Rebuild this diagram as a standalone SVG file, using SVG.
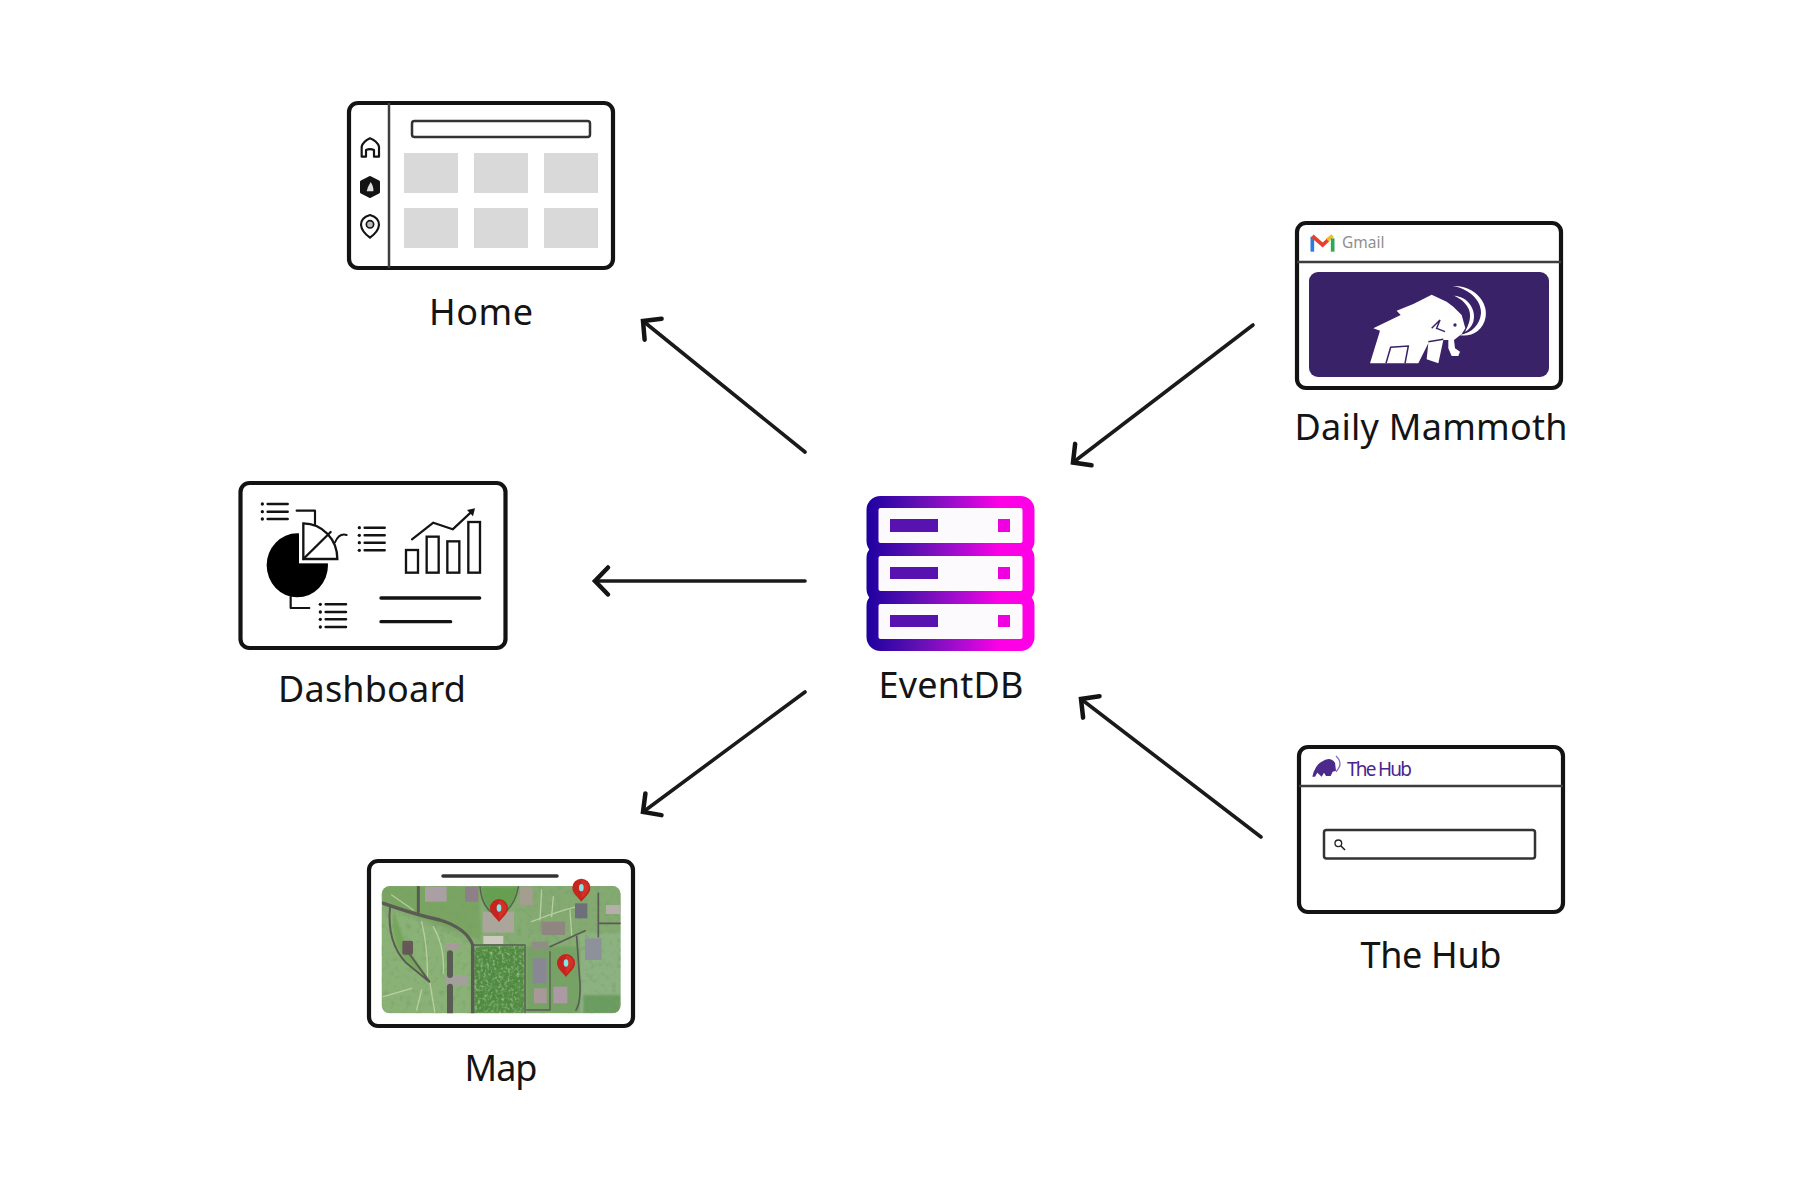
<svg xmlns="http://www.w3.org/2000/svg" width="1800" height="1200" viewBox="0 0 1800 1200">
<style>
text{font-family:"Noto Sans","Liberation Sans",sans-serif;fill:#141414}
.label{font-size:36px;text-anchor:middle}
.box{fill:#fff;stroke:#131313;stroke-width:4.2}
.tile{fill:#d9d9d9}
.div{stroke:#3d3d3d;stroke-width:2.5;fill:none}
.ln{fill:none;stroke:#131313;stroke-linecap:round;stroke-linejoin:round}
.arrow{fill:none;stroke:#1a1a1a;stroke-width:3.6;stroke-linecap:round;marker-end:url(#head)}
.srv{fill:#fdfafd;stroke:url(#grad);stroke-width:12}
.sbar{fill:#5812b0}
.road{fill:none;stroke:#5a5c54;stroke-linecap:round;stroke-linejoin:round}
.path{fill:none;stroke:#c9d8b0;stroke-width:4;stroke-linecap:round;opacity:.75}
</style>
<defs>
<marker id="head" markerUnits="userSpaceOnUse" markerWidth="44" markerHeight="44" viewBox="-34 -22 44 44" refX="0" refY="0" orient="auto">
<path d="M-13,-13.500 L0,0 L-13,13.500" fill="none" stroke="#141414" stroke-width="4.500" stroke-linecap="round" stroke-linejoin="miter"/>
</marker>
<linearGradient id="grad" gradientUnits="userSpaceOnUse" x1="867" y1="0" x2="1034" y2="0">
<stop offset="0" stop-color="#1f00a0"/><stop offset=".3" stop-color="#5f10b4"/><stop offset=".55" stop-color="#a80cd0"/><stop offset=".8" stop-color="#ff00e6"/><stop offset="1" stop-color="#ff00e6"/>
</linearGradient>
<clipPath id="mapclip"><rect x="95" y="138" width="717" height="382" rx="25"/></clipPath>
<filter id="soft" x="-5%" y="-5%" width="110%" height="110%"><feGaussianBlur stdDeviation="2.400"/></filter>
<filter id="mottle" x="0" y="0" width="100%" height="100%">
<feTurbulence type="fractalNoise" baseFrequency=".06" numOctaves="3" seed="4"/>
<feColorMatrix values="0 0 0 0 .18  0 0 0 0 .34  0 0 0 0 .14  0 0 0 1.600 -.8"/>
</filter>
<filter id="leaf" x="0" y="0" width="100%" height="100%">
<feTurbulence type="fractalNoise" baseFrequency=".11" numOctaves="2" seed="9"/>
<feColorMatrix values="0 0 0 0 .62  0 0 0 0 .80  0 0 0 0 .48  0 0 0 2 -.95"/>
<feGaussianBlur stdDeviation="1.500"/>
</filter>
<g id="pin"><path d="M0,38 C-10,24 -27,14 -27,-4 A27,27 0 1 1 27,-4 C27,14 10,24 0,38Z" fill="#c5241f"/><path d="M0,-27 A24,24 0 0 1 22,-4 C22,8 8,20 0,30Z" fill="#dd3a2a" opacity=".6"/><ellipse cx="0" cy="-4" rx="7" ry="11" fill="#84e4ea"/></g>
</defs>
<rect width="1800" height="1200" fill="#fff"/>

<g id="connectors">
<path class="arrow" d="M805,452 L643,321"/>
<path class="arrow" d="M805,581 L595,581"/>
<path class="arrow" d="M805,692 L643,812"/>
<path class="arrow" d="M1253,325 L1073,462.500"/>
<path class="arrow" d="M1261,837 L1081,699"/>
</g>

<g id="home">
<rect class="box" x="349" y="103" width="264" height="165" rx="9"/>
<path class="div" d="M389,103V268"/>
<rect x="412" y="121" width="178" height="16" rx="2.500" fill="#fff" stroke="#333" stroke-width="2.500"/>
<rect class="tile" x="404" y="153" width="54" height="40"/><rect class="tile" x="474" y="153" width="54" height="40"/><rect class="tile" x="544" y="153" width="54" height="40"/>
<rect class="tile" x="404" y="208" width="54" height="40"/><rect class="tile" x="474" y="208" width="54" height="40"/><rect class="tile" x="544" y="208" width="54" height="40"/>
<g transform="translate(330 80) scale(.33333)">
<path class="ln" stroke-width="6.500" d="M95,230 L95,200 Q100,184 120,175 Q142,184 147,200 L147,230 H132 V210 Q120,205 108,210 V230Z"/>
<path d="M120,293 L145,306 V336 L120,349 L95,336 V306Z" fill="#131313" stroke="#131313" stroke-width="10" stroke-linejoin="round"/>
<path d="M110,334 Q112,322 122,306 Q132,322 130,334Z" fill="#ddd"/>
<path class="ln" stroke-width="6.500" d="M120,405 Q148,413 147,435 Q145,455 120,473 Q95,455 93,435 Q92,413 120,405Z"/>
<circle cx="120" cy="433" r="11" fill="#bbb" stroke="#131313" stroke-width="5"/>
</g>
<text class="label" x="481" y="325" textLength="104">Home</text>
</g>

<g id="dashboard">
<rect class="box" x="240.500" y="483" width="265" height="165" rx="9"/>
<g transform="translate(220 460) scale(.33333)">
<g class="ln" stroke-width="7.500"><path d="M143,132H203M143,155H203M143,177H203M434,203H494M434,226H494M434,248H494M434,271H494M317,433H378M317,456H378M317,478H378M317,501H378"/></g>
<g fill="#131313"><circle cx="127" cy="132" r="5"/><circle cx="127" cy="155" r="5"/><circle cx="127" cy="177" r="5"/><circle cx="418" cy="203" r="5"/><circle cx="418" cy="226" r="5"/><circle cx="418" cy="248" r="5"/><circle cx="418" cy="271" r="5"/><circle cx="301" cy="433" r="5"/><circle cx="301" cy="456" r="5"/><circle cx="301" cy="478" r="5"/><circle cx="301" cy="501" r="5"/></g>
<ellipse cx="232" cy="316" rx="92" ry="96" fill="#000"/>
<rect x="237" y="200" width="110" height="110" fill="#fff"/>
<path d="M250,297 L250,190 A102,107 0 0 1 352,297Z" fill="#fff" stroke="#131313" stroke-width="7" stroke-linejoin="miter"/>
<path class="ln" stroke-width="7" d="M250,297 L332,216"/>
<path class="ln" stroke-width="6.500" d="M230,152 H285 V193 M212,410 V444 H268"/>
<path class="ln" stroke-width="6" d="M345,247 Q358,218 380,225"/>
<g fill="none" stroke="#131313" stroke-width="7"><rect x="558" y="270" width="36" height="68"/><rect x="620" y="230" width="36" height="108"/><rect x="682" y="244" width="36" height="94"/><rect x="745" y="186" width="35" height="152"/></g>
<path class="ln" stroke-width="6.500" d="M576,238 L640,188 L698,208 L755,155"/>
<path d="M741,150 L765,145 L759,169Z" fill="#131313"/>
<path class="ln" stroke-width="10" d="M483,414H779M483,485H692"/>
</g>
<text class="label" x="372" y="702" textLength="188">Dashboard</text>
</g>

<g id="map">
<rect class="box" x="369" y="861" width="264" height="165" rx="9"/>
<path d="M443,876H557" stroke="#333" stroke-width="3.500" stroke-linecap="round"/>
<g transform="translate(350 840) scale(.33333)">
<g clip-path="url(#mapclip)">
<rect x="95" y="138" width="717" height="382" fill="#85ac72"/>
<g filter="url(#soft)">
<path d="M95,140H390V300L200,230L95,190Z" fill="#7aa462"/>
<path d="M95,200L360,310V520H95Z" fill="#8bb276"/>
<path d="M130,210Q120,310 170,365L235,420L170,320Z" fill="#74a65c"/>
<rect x="372" y="318" width="152" height="202" fill="#4f8a40"/>
<path d="M392,140 Q395,210 445,228 Q495,205 505,140Z" fill="#659f50"/>
<path d="M690,270H812V520H690Z" fill="#8db282"/>
<path d="M530,140H812V280H530Z" fill="#84aa72"/>
<path d="M530,320H690V520H530Z" fill="#76a265"/>
<rect x="700" y="465" width="112" height="55" fill="#6a9c5e"/>
</g>
<rect x="95" y="138" width="717" height="382" filter="url(#mottle)"/>
<rect x="372" y="318" width="152" height="202" filter="url(#leaf)" opacity=".7"/>
<g style="filter:blur(1.800px)">
<path class="path" d="M215,245Q235,330 232,420M250,260Q285,320 280,400M100,470L185,445M240,430L255,520M215,450L200,510M575,150L570,240M610,170L605,230M545,245Q620,215 680,200M125,165L190,210M660,210L665,285"/>
<g>
<rect x="225" y="140" width="65" height="45" fill="#aaa0a3"/><rect x="345" y="140" width="40" height="45" fill="#8f7f88"/><rect x="510" y="140" width="38" height="55" fill="#a39e90"/>
<rect x="398" y="215" width="94" height="63" fill="#aaa69c"/><rect x="400" y="288" width="60" height="24" fill="#cfcabf"/>
<rect x="288" y="310" width="42" height="20" fill="#a79a9b"/><rect x="157" y="302" width="32" height="42" fill="#655856" rx="5"/>
<rect x="285" y="405" width="67" height="33" fill="#a3a09b"/>
<rect x="575" y="245" width="70" height="40" fill="#8f8682"/><rect x="545" y="305" width="50" height="25" fill="#8f8e84"/>
<rect x="705" y="295" width="50" height="65" fill="#8d929a"/><rect x="675" y="190" width="37" height="45" fill="#6d6f7a"/><rect x="768" y="195" width="44" height="27" fill="#b5aeaa"/>
<rect x="548" y="355" width="42" height="75" fill="#8a8794"/><rect x="552" y="445" width="38" height="45" fill="#a8989a"/><rect x="610" y="440" width="42" height="50" fill="#ab99a4"/>
</g>
<path class="road" stroke-width="10" d="M100,190 Q200,225 270,240 Q350,265 368,315 V520"/>
<path class="road" stroke-width="9" d="M205,140 V215"/>
<path class="road" stroke-width="6" d="M120,200 Q110,310 170,370 L238,425 L170,330"/>
<path class="road" stroke-width="18" d="M300,340 V405 M300,440 V520"/>
<path class="road" stroke-width="4" d="M368,315 H525 V520"/>
<path class="road" stroke-width="4" d="M390,140 Q395,210 445,228 Q495,205 505,140"/>
<path class="road" stroke-width="5" d="M680,290 L690,430 Q692,490 678,510 M600,320 L705,272 M745,160 V290 M745,250 H812"/>
<path class="road" stroke-width="4" d="M600,335 V510 M530,510 H600"/>
</g>
</g>
<use href="#pin" x="447" y="208"/><use href="#pin" x="694" y="147"/><use href="#pin" x="648" y="373"/>
</g>
<text class="label" x="501" y="1081" textLength="73">Map</text>
</g>

<g id="eventdb">
<rect class="srv" x="872.500" y="502" width="156" height="47" rx="8"/>
<rect class="srv" x="872.500" y="550" width="156" height="47" rx="8"/>
<rect class="srv" x="872.500" y="598" width="156" height="47" rx="8"/>
<rect class="sbar" x="890" y="519" width="48" height="13"/><rect class="sbar" x="890" y="567" width="48" height="12"/><rect class="sbar" x="890" y="615" width="48" height="12"/>
<rect x="998" y="519" width="12" height="13" fill="#f000e0"/><rect x="998" y="567" width="12" height="12" fill="#f000e0"/><rect x="998" y="615" width="12" height="12" fill="#f000e0"/>
<text class="label" x="951" y="698" textLength="145">EventDB</text>
</g>

<g id="daily-mammoth">
<rect class="box" x="1297" y="223" width="264" height="165" rx="9"/>
<path class="div" d="M1297,262H1561"/>
<rect x="1309" y="272" width="240" height="105" rx="9" fill="#3a2268"/>
<g transform="translate(1280 200) scale(.33333)">
<path d="M97,155 V110" stroke="#2a7de0" stroke-width="11" fill="none"/>
<path d="M97,108 L128,135 L146,118" stroke="#e8402f" stroke-width="11" fill="none"/>
<path d="M142,120 L158,107" stroke="#f7bb1f" stroke-width="11" fill="none"/>
<path d="M158,155 V115" stroke="#2fa855" stroke-width="11" fill="none"/>
<path fill="#fff" d="M270,490 L300,392 L280,385 L362,345 L350,332 L400,312 L455,284 L500,305 L520,320 L545,345 L556,385 L545,402 L522,420 L525,445 L540,455 L535,468 L515,468 L505,445 L505,420 L490,420 L475,490 L440,478 L445,430 L415,490Z"/>
<path fill="none" stroke="#3a2268" stroke-width="4.500" d="M318,490 L332,442 L385,438 L375,490 M445,425 L490,418 M455,385 L480,360 L470,385 L495,395"/>
<circle cx="525" cy="375" r="5" fill="#3a2268"/>
<path fill="#fff" d="M518,258 C585,255 625,310 617,350 C610,395 570,412 538,405 C575,400 600,375 603,340 C605,300 565,265 518,258Z"/>
<path fill="#fff" d="M522,287 C565,290 590,330 580,365 C575,380 565,390 555,395 C570,370 575,345 565,325 C555,305 540,295 522,287Z"/>
</g>
<text x="1342" y="248" font-size="15.500" style="fill:#8f8f8f">Gmail</text>
<text class="label" x="1431" y="440" textLength="273">Daily Mammoth</text>
</g>

<g id="the-hub">
<rect class="box" x="1299" y="747" width="264" height="165" rx="9"/>
<path class="div" d="M1299,786H1563"/>
<rect x="1324" y="830" width="211" height="28.500" rx="2.500" fill="#fff" stroke="#333" stroke-width="2.500"/>
<g transform="translate(1280 730) scale(.33333)">
<path d="M97,140 Q105,105 125,95 Q150,78 165,98 L168,122 L158,125 L152,138 L138,138 L132,128 L125,140 L112,128 L105,140Z" fill="#4b2a8c"/>
<path d="M168,78 Q192,100 168,125" fill="none" stroke="#8a6cc0" stroke-width="4"/>
<circle cx="175" cy="340" r="10" fill="none" stroke="#222" stroke-width="4"/>
<path d="M183,348 L195,360" stroke="#222" stroke-width="5"/>
</g>
<text x="1347" y="776" font-size="19" textLength="65" style="fill:#4a2590">The Hub</text>
<text class="label" x="1431" y="968" textLength="141">The Hub</text>
</g>
</svg>
